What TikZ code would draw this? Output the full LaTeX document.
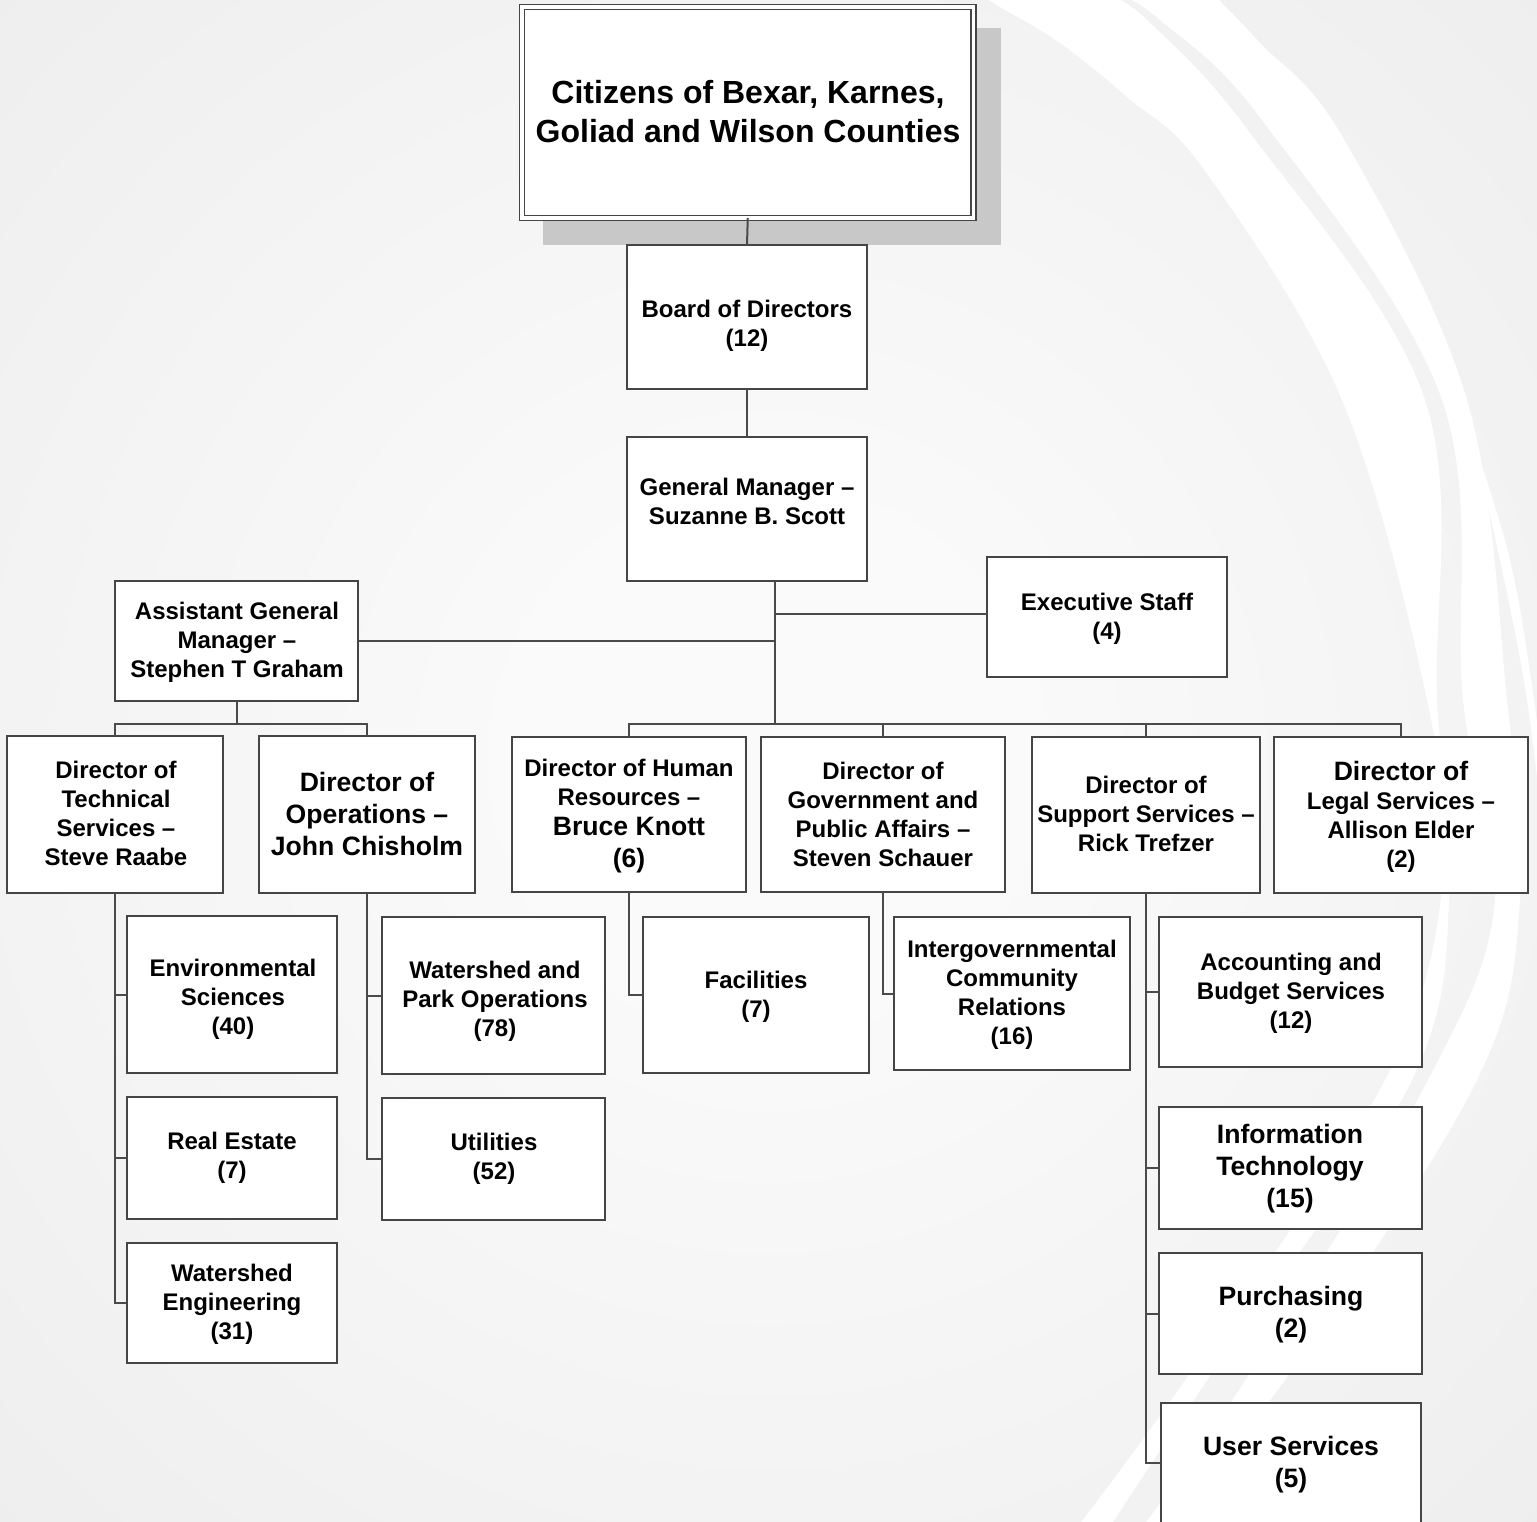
\documentclass[tikz,border=0pt]{standalone}
\usepackage{fontspec}
\setmainfont{Liberation Sans}
\usetikzlibrary{calc}
\definecolor{boxc}{HTML}{454545}
\definecolor{linec}{HTML}{4A4A4A}
\definecolor{bgin}{HTML}{FAFAFA}
\definecolor{bgout}{HTML}{E3E3E3}
\definecolor{shadowc}{HTML}{C8C8C8}
\pgfdeclareradialshading{bgshade}{\pgfpoint{0bp}{0bp}}{color(0bp)=(bgin); color(8bp)=(bgin); color(62bp)=(bgout); color(100bp)=(bgout)}
\begin{document}
\begin{tikzpicture}[x=0.5pt,y=-0.5pt,
  box/.style={draw=boxc, line width=1pt, fill=white, rectangle, inner sep=0pt, outer sep=0pt},
  txt/.style={align=center, font=\bfseries\fontsize{12}{14.5}\selectfont, inner sep=0pt, text=black},
  txtb/.style={align=center, font=\bfseries\fontsize{13.3}{16}\selectfont, inner sep=0pt, text=black},
  txtc/.style={align=center, font=\bfseries\fontsize{16}{19.5}\selectfont, inner sep=0pt, text=black},
  conn/.style={draw=linec, line width=1pt},
  swoosh/.style={fill=white}]
\useasboundingbox (0,0) rectangle (1537,1521);
\clip (0,0) rectangle (1537,1521);
% background
\shade[shading=bgshade] (0,0) rectangle (1537,1521);
\fill[swoosh] plot[smooth, tension=0.6] coordinates {(985,-2) (1000,7) (1060,43) (1127,97) (1205,171) (1342,400) (1427,700) (1443,880) (1385,1080) (1190,1373) (1079,1525)}
  -- plot[smooth, tension=0.6] coordinates {(1111,1525) (1212,1373) (1412,1080) (1450,880) (1437,700) (1425,400) (1250,133) (1147,20) (1113,-2)} -- cycle;
\fill[swoosh] plot[smooth, tension=0.6] coordinates {(1125,-2) (1160,20) (1262,120) (1442,400) (1463,700) (1495,900) (1428,1080) (1250,1373) (1144,1525)}
  -- plot[smooth, tension=0.6] coordinates {(1164,1525) (1290,1373) (1477,1080) (1520,900) (1507,700) (1467,400) (1342,136) (1260,43) (1217,-2)} -- cycle;
\fill[swoosh] plot[smooth, tension=0.6] coordinates {(1470,430) (1500,560) (1527,700) (1545,850)}
  -- plot[smooth, tension=0.6] coordinates {(1552,850) (1534,700) (1510,560) (1470,430)} -- cycle;
% shadow of the top box
\fill[shadowc] (543,28) rectangle (1001,245);
% boxes
\node[box, line width=0.9pt, double=white, double distance=1.6pt, minimum width=225.75pt, minimum height=105.5pt] (cit) at (747.75,112.5) {};
\node[box, minimum width=120pt, minimum height=72pt] (board) at (747,317) {};
\node[box, minimum width=120pt, minimum height=72pt] (gm) at (747,509) {};
\node[box, minimum width=120pt, minimum height=60pt] (exec) at (1107,617) {};
\node[box, minimum width=121.5pt, minimum height=60pt] (agm) at (236.5,641) {};
\node[box, minimum width=108pt, minimum height=78.5pt] (tech) at (115,814.5) {};
\node[box, minimum width=108pt, minimum height=78.5pt] (ops) at (367,814.5) {};
\node[box, minimum width=117pt, minimum height=77.5pt] (hr) at (629,814.5) {};
\node[box, minimum width=122pt, minimum height=77.5pt] (gov) at (883,814.5) {};
\node[box, minimum width=114pt, minimum height=78pt] (sup) at (1146,815) {};
\node[box, minimum width=127pt, minimum height=78pt] (legal) at (1401,815) {};
\node[box, minimum width=105pt, minimum height=78.5pt] (env) at (232,994.5) {};
\node[box, minimum width=105pt, minimum height=61pt] (re) at (232,1158) {};
\node[box, minimum width=105pt, minimum height=60pt] (weng) at (232,1303) {};
\node[box, minimum width=111.5pt, minimum height=78.5pt] (wpo) at (493.5,995.5) {};
\node[box, minimum width=111.5pt, minimum height=61pt] (util) at (493.5,1159) {};
\node[box, minimum width=113pt, minimum height=78pt] (fac) at (756,995) {};
\node[box, minimum width=118pt, minimum height=76.5pt] (igov) at (1012,993.5) {};
\node[box, minimum width=131.5pt, minimum height=75pt] (acct) at (1290.5,992) {};
\node[box, minimum width=131.5pt, minimum height=61pt] (it) at (1290.5,1168) {};
\node[box, minimum width=131.5pt, minimum height=60.5pt] (purch) at (1290.5,1313.5) {};
\node[box, minimum width=130pt, minimum height=60pt] (user) at (1291,1463) {};
% texts
\node[txtc] (citT) at (748,111.5) {Citizens of Bexar, Karnes,\\Goliad and Wilson Counties};
\node[txt] (boardT) at (747,325.5) {Board of Directors\\(12)};
\node[txt] (gmT) at (747,501.5) {General Manager –\\Suzanne B. Scott};
\node[txt] (execT) at (1107,619) {Executive Staff\\(4)};
\node[txt] (agmT) at (237,642) {Assistant General\\Manager –\\Stephen T Graham};
\node[txt] (techT) at (116,813.5) {Director of\\Technical\\Services –\\Steve Raabe};
\node[txtb] (opsT) at (367,814) {Director of\\Operations –\\John Chisholm};
\node[txt] (hrT) at (629,816) {Director of Human\\Resources –\\[0.5pt]{\fontsize{13.3}{16}\selectfont Bruce Knott}\\[1.5pt]{\fontsize{13.3}{16}\selectfont (6)}};
\node[txt] (govT) at (883,814) {Director of\\Government and\\Public Affairs –\\Steven Schauer};
\node[txt] (supT) at (1146,814) {Director of\\Support Services –\\Rick Trefzer};
\node[txt] (legalT) at (1401,817) {{\fontsize{13.3}{16}\selectfont Director of}\\Legal Services –\\Allison Elder\\(2)};
\node[txt] (envT) at (233,999) {Environmental\\Sciences\\(40)};
\node[txt] (reT) at (232,1157.5) {Real Estate\\(7)};
\node[txt] (wengT) at (232,1304) {Watershed\\Engineering\\(31)};
\node[txt] (wpoT) at (495,1001) {Watershed and\\Park Operations\\(78)};
\node[txt] (utilT) at (494,1159) {Utilities\\(52)};
\node[txt] (facT) at (756,997) {Facilities\\(7)};
\node[txt] (igovT) at (1012,994.5) {Intergovernmental\\Community\\Relations\\(16)};
\node[txt] (acctT) at (1291,993.3) {Accounting and\\Budget Services\\(12)};
\node[txtb] (itT) at (1290,1169) {Information\\Technology\\(15)};
\node[txtb] (purchT) at (1291,1315) {Purchasing\\(2)};
\node[txtb] (userT) at (1291,1465) {User Services\\(5)};
% connectors
\coordinate (bus) at (775,724);
\coordinate (execin) at ($(exec.west)+(0,-3)$);
\draw[conn] (cit.south) -- (board.north);
\draw[conn] (board.south) -- (gm.north);
\draw[conn] (gm.south -| bus) -- (bus);
\draw[conn] (execin -| bus) -- (execin);
\draw[conn] (agm.east) -- (agm.east -| bus);
\draw[conn] (hr.north) -- (hr.north |- bus) -- (legal.north |- bus) -- (legal.north);
\draw[conn] (gov.north |- bus) -- (gov.north);
\draw[conn] (sup.north |- bus) -- (sup.north);
\draw[conn] (agm.south) -- (agm.south |- bus);
\draw[conn] (tech.north) -- (tech.north |- bus) -- (ops.north |- bus) -- (ops.north);
% children
\draw[conn] (tech.south) -- (tech.south |- weng.west) -- (weng.west);
\draw[conn] (tech.south |- env.west) -- (env.west);
\draw[conn] (tech.south |- re.west) -- (re.west);
\draw[conn] (ops.south) -- (ops.south |- util.west) -- (util.west);
\draw[conn] (ops.south |- wpo.west) -- (wpo.west);
\draw[conn] (hr.south) -- (hr.south |- fac.west) -- (fac.west);
\draw[conn] (gov.south) -- (gov.south |- igov.west) -- (igov.west);
\draw[conn] (sup.south) -- (sup.south |- user.west) -- (user.west);
\draw[conn] (sup.south |- acct.west) -- (acct.west);
\draw[conn] (sup.south |- it.west) -- (it.west);
\draw[conn] (sup.south |- purch.west) -- (purch.west);
\end{tikzpicture}
\end{document}
